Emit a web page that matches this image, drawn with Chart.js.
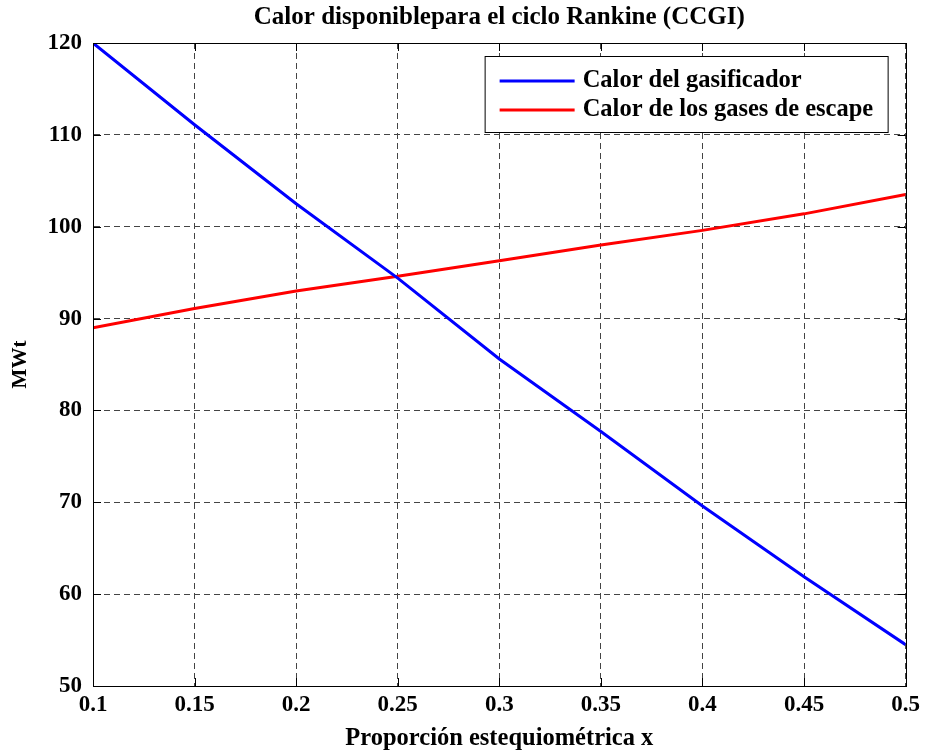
<!DOCTYPE html>
<html>
<head>
<meta charset="utf-8">
<script src="https://cdn.jsdelivr.net/npm/chart.js@4.4.1/dist/chart.umd.min.js"></script>
<style>
  html, body { margin: 0; padding: 0; background: #ffffff; }
  #wrap { width: 925px; height: 751px; }
</style>
</head>
<body>
<div id="wrap"><canvas id="c" width="925" height="751"></canvas></div>
<script>
// Proporción estequiométrica x
const xValues = [0.1, 0.15, 0.2, 0.25, 0.3, 0.35, 0.4, 0.45, 0.5];
const xTickLabels = ['0.1', '0.15', '0.2', '0.25', '0.3', '0.35', '0.4', '0.45', '0.5'];
// MWt
const calorGasificador = [120, 111.1, 102.5, 94.4, 85.6, 77.7, 69.6, 61.9, 54.5];
const calorGasesEscape = [89.0, 91.1, 93.0, 94.6, 96.3, 98.0, 99.6, 101.4, 103.5];
const seriesNames = ['Calor del gasificador', 'Calor de los gases de escape'];
const seriesColors = ['#0000ff', '#ff0000'];
const chartTitle = 'Calor disponiblepara el ciclo Rankine (CCGI)';

const FONT = '"Liberation Serif", "Times New Roman", serif';

function toPoints(ys) {
  return xValues.map((x, i) => ({ x: x, y: ys[i] }));
}

// Title centred over the plot, box border, inward ticks on all four sides and the boxed legend
const framePlugin = {
  id: 'frame',
  afterDraw(chart) {
    const { ctx, chartArea: a, scales } = chart;
    ctx.save();

    ctx.fillStyle = '#000000';
    ctx.font = 'bold 25px ' + FONT;
    ctx.textAlign = 'center';
    ctx.textBaseline = 'middle';
    ctx.fillText(chartTitle, (a.left + a.right) / 2, 18);

    ctx.strokeStyle = '#000000';
    ctx.lineWidth = 1;
    const tl = 8;
    ctx.beginPath();
    scales.x.ticks.forEach(t => {
      const px = Math.round(scales.x.getPixelForValue(t.value)) + 0.5;
      ctx.moveTo(px, a.bottom); ctx.lineTo(px, a.bottom - tl);
      ctx.moveTo(px, a.top); ctx.lineTo(px, a.top + tl);
    });
    scales.y.ticks.forEach(t => {
      const py = Math.round(scales.y.getPixelForValue(t.value)) + 0.5;
      ctx.moveTo(a.left, py); ctx.lineTo(a.left + tl, py);
      ctx.moveTo(a.right, py); ctx.lineTo(a.right - tl, py);
    });
    ctx.stroke();
    ctx.strokeRect(Math.round(a.left) + 0.5, Math.round(a.top) + 0.5,
                   Math.round(a.right - a.left), Math.round(a.bottom - a.top));

    // legend
    const bx = a.right - 421, by = a.top + 13, bw = 403, bh = 76;
    ctx.fillStyle = '#ffffff';
    ctx.fillRect(bx, by, bw, bh);
    ctx.strokeRect(bx + 0.5, by + 0.5, bw, bh);
    ctx.font = 'bold 24.5px ' + FONT;
    ctx.textBaseline = 'middle';
    ctx.textAlign = 'left';
    chart.data.datasets.forEach((ds, i) => {
      const y = by + 25 + i * 29;
      ctx.strokeStyle = ds.borderColor;
      ctx.lineWidth = 3;
      ctx.beginPath();
      ctx.moveTo(bx + 15, y); ctx.lineTo(bx + 90, y);
      ctx.stroke();
      ctx.fillStyle = '#000000';
      ctx.fillText(ds.label, bx + 98, y);
    });
    ctx.restore();
  }
};

new Chart(document.getElementById('c'), {
  type: 'line',
  data: {
    datasets: [
      { label: seriesNames[0], data: toPoints(calorGasificador), borderColor: seriesColors[0],
        borderWidth: 3, pointRadius: 0, fill: false, tension: 0 },
      { label: seriesNames[1], data: toPoints(calorGasesEscape), borderColor: seriesColors[1],
        borderWidth: 3, pointRadius: 0, fill: false, tension: 0 }
    ]
  },
  options: {
    responsive: false,
    animation: false,
    layout: { padding: { left: 0, right: 17, top: 43, bottom: 0 } },
    plugins: {
      legend: { display: false },
      tooltip: { enabled: false },
      title: { display: false }
    },
    scales: {
      x: {
        type: 'linear',
        min: 0.1, max: 0.5,
        afterFit(scale) { scale.height = 65; },
        afterBuildTicks(scale) {
          scale.ticks = xValues.map(v => ({ value: v }));
        },
        ticks: {
          color: '#000000',
          font: { family: FONT, size: 23, weight: 'bold' },
          padding: 5,
          maxRotation: 0,
          autoSkip: false,
          callback: (v, i) => xTickLabels[i]
        },
        grid: { color: '#444444', lineWidth: 1, drawTicks: false },
        border: { display: true, color: '#000000', dash: [6, 4] },
        title: {
          display: true,
          text: 'Proporción estequiométrica x',
          color: '#000000',
          font: { family: FONT, size: 24.5, weight: 'bold', lineHeight: 1 },
          padding: { top: 0, bottom: 0 }
        }
      },
      y: {
        type: 'linear',
        min: 50, max: 120,
        afterFit(scale) { scale.width = 93; },
        ticks: {
          stepSize: 10,
          color: '#000000',
          font: { family: FONT, size: 23, weight: 'bold' },
          padding: 11
        },
        grid: { color: '#444444', lineWidth: 1, drawTicks: false },
        border: { display: true, color: '#000000', dash: [6, 4] },
        title: {
          display: true,
          text: 'MWt',
          color: '#000000',
          font: { family: FONT, size: 21, weight: 'bold', lineHeight: 1.2 },
          padding: { top: 8, bottom: 0 }
        }
      }
    }
  },
  plugins: [framePlugin]
});
</script>
</body>
</html>
